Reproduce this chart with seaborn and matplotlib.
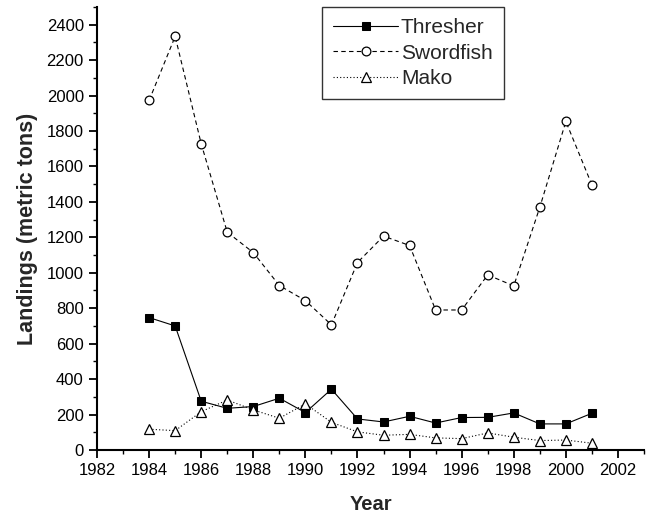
import pandas as pd
import matplotlib
matplotlib.use("Agg")
import matplotlib.pyplot as plt
import seaborn as sns
from matplotlib.ticker import MultipleLocator

years = list(range(1984, 2002))
thresher = [747, 700, 275, 235, 245, 292, 211, 343, 175, 158, 190, 152, 183, 184, 209, 147, 147, 207]
swordfish = [1973, 2334, 1728, 1229, 1114, 928, 843, 706, 1058, 1207, 1154, 790, 790, 988, 926, 1370, 1854, 1496]
mako = [117, 109, 216, 282, 226, 179, 260, 156, 102, 83, 88, 68, 64, 96, 72, 53, 56, 38]

data = pd.DataFrame({'Year': years, 'Thresher': thresher, 'Swordfish': swordfish, 'Mako': mako})

sns.set_style("ticks")
plt.rcParams['font.family'] = ['Liberation Sans', 'DejaVu Sans']

fig = plt.figure(figsize=(6.49, 5.16), dpi=100)
ax = fig.add_axes([0.1495, 0.128, 0.8428, 0.8584])

sns.lineplot(x='Year', y='Thresher', data=data, ax=ax, color='black', lw=0.8,
             linestyle='-', marker='s', markersize=5.5, markerfacecolor='black',
             markeredgecolor='black', label='Thresher')
sns.lineplot(x='Year', y='Swordfish', data=data, ax=ax, color='black', lw=0.8,
             linestyle=(0, (4, 3)), marker='o', markersize=6.3, markerfacecolor='white',
             markeredgecolor='black', markeredgewidth=0.9, label='Swordfish')
sns.lineplot(x='Year', y='Mako', data=data, ax=ax, color='black', lw=0.8,
             linestyle=(0, (1, 2)), marker='^', markersize=7.5, markerfacecolor='white',
             markeredgecolor='black', markeredgewidth=0.9, label='Mako')

ax.set_xlim(1982, 2003)
ax.set_ylim(0, 2500)
ax.xaxis.set_major_locator(MultipleLocator(2))
ax.xaxis.set_minor_locator(MultipleLocator(1))
ax.yaxis.set_minor_locator(MultipleLocator(100))
ax.set_yticks(range(0, 2401, 200))

sns.despine(ax=ax)
for s in ['left', 'bottom']:
    ax.spines[s].set_linewidth(1.5)
    ax.spines[s].set_color('black')
ax.tick_params(which='major', direction='out', length=5.5, width=1.3, labelsize=12,
               colors='black', pad=4)
ax.tick_params(which='minor', direction='out', length=3, width=1.0, colors='black')

ax.set_xlabel('Year', fontsize=14.5, fontweight='bold', labelpad=12)
ax.set_ylabel('Landings (metric tons)', fontsize=15.5, fontweight='bold', labelpad=6)

leg = ax.legend(loc='upper left', bbox_to_anchor=(0.411, 1.0), borderaxespad=0,
                fontsize=15, frameon=True, fancybox=False, handlelength=3.1,
                borderpad=0.55, labelspacing=0.3, handletextpad=0.15)
leg.get_frame().set_edgecolor('black')
leg.get_frame().set_linewidth(1.0)

fig.savefig('out.png', dpi=100)
